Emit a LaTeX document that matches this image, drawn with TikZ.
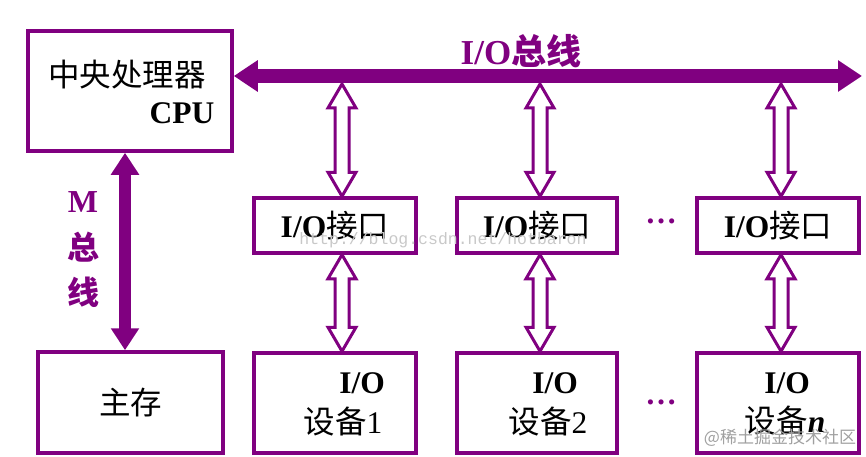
\documentclass[tikz,border=0pt]{standalone}
\usepackage{fontspec}
\setmainfont{Liberation Serif}
\newfontfamily\cjk{Noto Sans CJK SC}
\newfontfamily\wmono{Liberation Mono}
\usetikzlibrary{arrows.meta,calc}
\definecolor{pur}{RGB}{128,0,128}
\definecolor{wm}{RGB}{200,200,200}
\definecolor{wmb}{RGB}{160,160,160}
\tikzset{
  box/.style={draw=pur, line width=3.5pt, inner sep=0pt},
  bus/.style={draw=pur, line width=14pt, {Triangle[length=24pt,width=30pt]}-{Triangle[length=24pt,width=30pt]}},
  mbus/.style={draw=pur, line width=12pt, {Triangle[length=22pt,width=27pt]}-{Triangle[length=22pt,width=27pt]}},
  hollow/.style={draw=pur, fill=white, line width=3pt, line join=miter},
  lbl/.style={inner sep=0pt},
  plbl/.style={inner sep=0pt, text=pur, font=\fontsize{32}{36}\selectfont\bfseries},
}
\newcommand{\hollowarr}[2]{%
  \draw[hollow] let \p1=#1, \p2=#2 in
  (\x2,\y1) -- (\x2+14pt,\y1-24pt) -- (\x2+7pt,\y1-24pt) -- (\x2+7pt,\y2+24pt)
  -- (\x2+14pt,\y2+24pt) -- (\x2,\y2) -- (\x2-14pt,\y2+24pt) -- (\x2-7pt,\y2+24pt)
  -- (\x2-7pt,\y1-24pt) -- (\x2-14pt,\y1-24pt) -- cycle;}
\begin{document}
\begin{tikzpicture}[x=1pt,y=-1pt, every node/.append style={font=\fontsize{31.5}{35}\selectfont}]
\useasboundingbox (0,0) rectangle (866,457);
% boxes
\node[box, minimum width=204pt, minimum height=120pt] (cpu) at (130,91) {};
\node[box, minimum width=185pt, minimum height=101pt] (mem) at (130.5,402.5) {\cjk 主存};
\node[box, minimum width=162pt, minimum height=55pt] (if1) at (335,225.5) {\textbf{I/O}\cjk 接口};
\node[box, minimum width=160pt, minimum height=55pt] (if2) at (537,225.5) {\textbf{I/O}\cjk 接口};
\node[box, minimum width=162pt, minimum height=55pt] (if3) at (778,225.5) {\textbf{I/O}\cjk 接口};
\node[box, minimum width=162pt, minimum height=100pt] (dev1) at (335,403) {};
\node[box, minimum width=160pt, minimum height=100pt] (dev2) at (537,403) {};
\node[box, minimum width=162pt, minimum height=100pt] (dev3) at (778,403) {};
% texts
\node[lbl] (cpuzh) at (127,75) {\cjk 中央处理器};
\node[lbl] (cpuen) at (182,113) {\textbf{CPU}};
\node[lbl] (d1a) at (362,383) {\textbf{I/O}};
\node[lbl] (d1b) at (343,422) {{\cjk 设备}1};
\node[lbl] (d2a) at (555,383) {\textbf{I/O}};
\node[lbl] (d2b) at (548,422) {{\cjk 设备}2};
\node[lbl] (d3a) at (787,383) {\textbf{I/O}};
\node[lbl] (d3b) at (785,421) {{\cjk 设备}\textbf{\textit{n}}};
% bus
\coordinate (busR) at (862,76);
\coordinate (busB) at (0,84);
\draw[bus] (cpu.east |- busR) -- (busR);
\node[plbl, font=\fontsize{35}{38}\selectfont\bfseries] (buslbl) at (521,51) {I/O{\cjk\bfseries 总线}};
% M bus
\draw[mbus] ([xshift=-5pt]cpu.south) -- ([xshift=-5.5pt]mem.north);
\node[plbl] (m1) at (83,202) {M};
\node[plbl] (m2) at (83,247) {\cjk\bfseries 总};
\node[plbl] (m3) at (83,292) {\cjk\bfseries 线};
% hollow arrows
\hollowarr{(busB)}{([xshift=7pt]if1.north)}
\hollowarr{(busB)}{([xshift=3pt]if2.north)}
\hollowarr{(busB)}{([xshift=3pt]if3.north)}
\hollowarr{([xshift=7pt]if1.south)}{([xshift=7pt]dev1.north)}
\hollowarr{([xshift=3pt]if2.south)}{([xshift=3pt]dev2.north)}
\hollowarr{([xshift=3pt]if3.south)}{([xshift=3pt]dev3.north)}
% dots
\node[lbl, anchor=base, text=pur] (dots1) at (661,223) {\textbf{…}};
\node[lbl, anchor=base, text=pur] (dots2) at (661,404) {\textbf{…}};
% watermarks
\node[lbl, text=wm, font=\fontsize{16.5}{18}\selectfont\wmono] (wm1) at (443,240) {http://blog.csdn.net/hotbaron};
\node[lbl, text=wmb, font=\fontsize{17}{19}\selectfont] (wm2) at (780,438) {{\cjk @稀土掘金技术社区}};
\end{tikzpicture}
\end{document}
